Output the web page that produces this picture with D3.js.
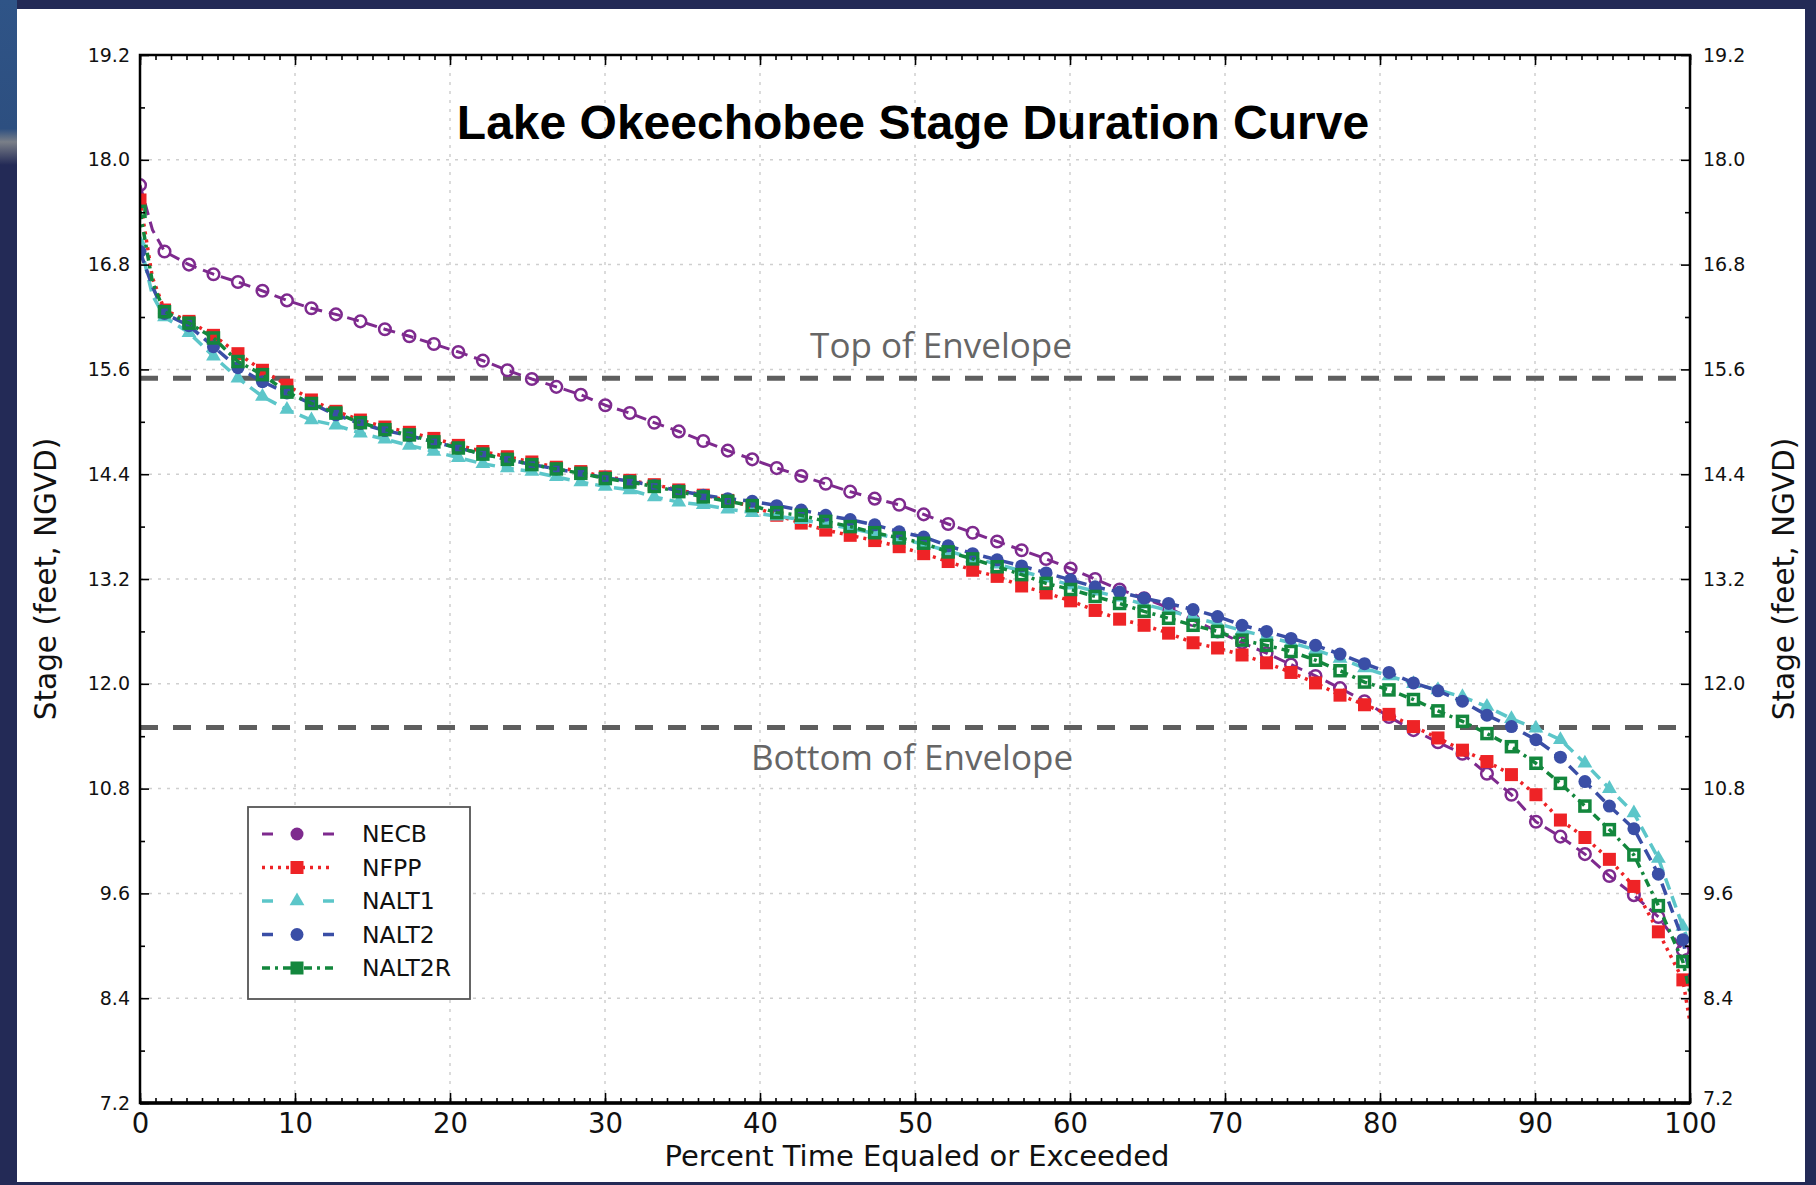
<!DOCTYPE html>
<html><head><meta charset="utf-8">
<script src="https://cdn.jsdelivr.net/npm/d3@7/dist/d3.min.js"></script>
<style>body{margin:0;background:#fff;overflow:hidden}</style>
</head><body>
<svg id="chart" width="1816" height="1185"></svg>
<script>
// ---------------- DATA ----------------
const percent = [0, 0.8, 1.58, 3.16, 4.74, 6.32, 7.90, 9.48, 11.06, 12.64, 14.22, 15.80, 17.38, 18.96, 20.54, 22.12, 23.70, 25.28, 26.86, 28.44, 30.02, 31.60, 33.18, 34.76, 36.34, 37.92, 39.50, 41.08, 42.66, 44.24, 45.82, 47.40, 48.98, 50.56, 52.14, 53.72, 55.30, 56.88, 58.46, 60.04, 61.62, 63.20, 64.78, 66.36, 67.94, 69.52, 71.10, 72.68, 74.26, 75.84, 77.42, 79.00, 80.58, 82.16, 83.74, 85.32, 86.90, 88.48, 90.06, 91.64, 93.22, 94.80, 96.38, 97.96, 99.54, 100];
// points of the line that carry no marker
const lineOnlyPercent = [0.8, 100];

const necb = [17.71, 17.2, 16.95, 16.80, 16.69, 16.60, 16.50, 16.39, 16.30, 16.23, 16.15, 16.06, 15.98, 15.89, 15.80, 15.70, 15.59, 15.49, 15.40, 15.31, 15.19, 15.10, 14.99, 14.89, 14.78, 14.67, 14.57, 14.47, 14.38, 14.29, 14.20, 14.12, 14.05, 13.94, 13.83, 13.73, 13.63, 13.53, 13.43, 13.32, 13.20, 13.08, 12.98, 12.87, 12.73, 12.60, 12.47, 12.35, 12.22, 12.09, 11.95, 11.80, 11.62, 11.47, 11.33, 11.20, 10.97, 10.73, 10.42, 10.25, 10.05, 9.80, 9.58, 9.33, 8.95, 8.75];
const nfpp = [17.54, 16.65, 16.28, 16.15, 15.99, 15.78, 15.59, 15.42, 15.25, 15.12, 15.02, 14.94, 14.88, 14.81, 14.73, 14.66, 14.60, 14.54, 14.48, 14.43, 14.37, 14.33, 14.28, 14.22, 14.16, 14.10, 14.03, 13.93, 13.84, 13.76, 13.70, 13.64, 13.57, 13.49, 13.40, 13.30, 13.23, 13.12, 13.04, 12.95, 12.84, 12.74, 12.67, 12.58, 12.47, 12.41, 12.33, 12.24, 12.13, 12.01, 11.87, 11.76, 11.65, 11.51, 11.38, 11.24, 11.11, 10.96, 10.73, 10.44, 10.24, 9.99, 9.68, 9.16, 8.61, 8.12];
const nalt1 = [17.05, 16.45, 16.20, 16.02, 15.75, 15.50, 15.29, 15.14, 15.02, 14.96, 14.87, 14.80, 14.73, 14.66, 14.59, 14.52, 14.47, 14.43, 14.37, 14.31, 14.26, 14.22, 14.14, 14.08, 14.05, 14.00, 13.96, 13.92, 13.88, 13.83, 13.78, 13.72, 13.66, 13.60, 13.52, 13.44, 13.37, 13.29, 13.21, 13.13, 13.06, 12.99, 12.91, 12.84, 12.76, 12.69, 12.61, 12.54, 12.47, 12.39, 12.29, 12.18, 12.09, 12.00, 11.93, 11.85, 11.74, 11.60, 11.49, 11.36, 11.09, 10.80, 10.52, 10.00, 9.22, 9.00];
const nalt2 = [16.95, 16.55, 16.24, 16.10, 15.86, 15.62, 15.46, 15.33, 15.21, 15.08, 14.98, 14.90, 14.84, 14.77, 14.70, 14.63, 14.57, 14.51, 14.46, 14.41, 14.36, 14.32, 14.27, 14.21, 14.16, 14.12, 14.09, 14.04, 13.99, 13.93, 13.88, 13.82, 13.74, 13.68, 13.58, 13.49, 13.42, 13.35, 13.27, 13.19, 13.11, 13.05, 12.98, 12.92, 12.85, 12.77, 12.67, 12.60, 12.52, 12.44, 12.34, 12.23, 12.13, 12.01, 11.92, 11.80, 11.64, 11.51, 11.36, 11.16, 10.88, 10.60, 10.34, 9.82, 9.07, 8.65];
const nalt2r = [17.41, 16.6, 16.26, 16.13, 15.96, 15.69, 15.54, 15.34, 15.21, 15.10, 14.99, 14.91, 14.85, 14.77, 14.70, 14.63, 14.57, 14.51, 14.46, 14.41, 14.35, 14.31, 14.26, 14.20, 14.14, 14.09, 14.04, 13.96, 13.93, 13.86, 13.80, 13.73, 13.67, 13.61, 13.51, 13.43, 13.34, 13.25, 13.15, 13.08, 13.00, 12.92, 12.83, 12.75, 12.67, 12.60, 12.50, 12.44, 12.37, 12.27, 12.15, 12.02, 11.93, 11.82, 11.69, 11.57, 11.43, 11.28, 11.09, 10.86, 10.60, 10.33, 10.04, 9.46, 8.82, 8.46];

const seriesNames = ["NECB", "NFPP", "NALT1", "NALT2", "NALT2R"];
const seriesValues = [necb, nfpp, nalt1, nalt2, nalt2r];

const envelopeLabels = ["Top of Envelope", "Bottom of Envelope"];
const envelopeValues = [15.5, 11.5];

const xTickValues = [0, 10, 20, 30, 40, 50, 60, 70, 80, 90, 100];
const xTickLabels = ["0", "10", "20", "30", "40", "50", "60", "70", "80", "90", "100"];
const yTickValues = [7.2, 8.4, 9.6, 10.8, 12.0, 13.2, 14.4, 15.6, 16.8, 18.0, 19.2];
const yTickLabels = ["7.2", "8.4", "9.6", "10.8", "12.0", "13.2", "14.4", "15.6", "16.8", "18.0", "19.2"];

const titleText = "Lake Okeechobee Stage Duration Curve";
const xLabelText = "Percent Time Equaled or Exceeded";
const yLabelText = "Stage (feet, NGVD)";

// ---------------- STYLES ----------------
const styles = {
  NECB:   {color: "#7e2a8e", dash: "12,7",    legDash: "11,50",   width: 3,   marker: "circleOpen"},
  NFPP:   {color: "#ee2326", dash: "3,5",     legDash: "3,5",     width: 3.5, marker: "square"},
  NALT1:  {color: "#5cc6c9", dash: "12,7",    legDash: "11,50",   width: 3.5, marker: "triangle"},
  NALT2:  {color: "#3a4ea6", dash: "12,7",    legDash: "11,50",   width: 3.5, marker: "circle"},
  NALT2R: {color: "#13873d", dash: "8,5,3,5", legDash: "8,5,3,5", width: 3.5, marker: "squareOpen"}
};

const W = 1816, H = 1185;
const P = {left: 140, right: 1690, top: 55, bottom: 1103};
const AXFONT = "'DejaVu Sans', sans-serif";

const svg = d3.select("#chart");

// ---------------- BACKGROUND FRAME ----------------
svg.append("rect").attr("width", W).attr("height", H).attr("fill", "#232a56");
const defs = svg.append("defs");
const lg = defs.append("linearGradient").attr("id", "lstrip").attr("x1", 0).attr("y1", 0).attr("x2", 0).attr("y2", 1);
lg.append("stop").attr("offset", "0%").attr("stop-color", "#2f5487");
lg.append("stop").attr("offset", "78%").attr("stop-color", "#2d4f80");
lg.append("stop").attr("offset", "86%").attr("stop-color", "#7a7f88");
lg.append("stop").attr("offset", "100%").attr("stop-color", "#232a56");
svg.append("rect").attr("x", 0).attr("y", 0).attr("width", 17).attr("height", 165).attr("fill", "url(#lstrip)");
svg.append("rect").attr("x", 17).attr("y", 9).attr("width", 1788).attr("height", 1173).attr("fill", "#ffffff");

// ---------------- SCALES ----------------
const x = d3.scaleLinear().domain([0, 100]).range([P.left, P.right]);
const y = d3.scaleLinear().domain([7.2, 19.2]).range([P.bottom, P.top]);

// ---------------- GRID ----------------
const grid = svg.append("g");
grid.selectAll("line.vg").data(xTickValues.slice(1, -1)).join("line")
  .attr("x1", d => x(d)).attr("x2", d => x(d)).attr("y1", P.top).attr("y2", P.bottom)
  .attr("stroke", "#cfcfcf").attr("stroke-width", 1.5).attr("stroke-dasharray", "3,6");
grid.selectAll("line.hg").data(yTickValues.slice(1, -1)).join("line")
  .attr("x1", P.left).attr("x2", P.right).attr("y1", d => y(d)).attr("y2", d => y(d))
  .attr("stroke", "#cfcfcf").attr("stroke-width", 1.5).attr("stroke-dasharray", "3,6");

// ---------------- ENVELOPE ----------------
svg.selectAll("line.env").data(envelopeValues).join("line")
  .attr("x1", P.left).attr("x2", P.right).attr("y1", d => y(d)).attr("y2", d => y(d))
  .attr("stroke", "#5e5e5e").attr("stroke-width", 5).attr("stroke-dasharray", "18,15");
svg.append("text").attr("x", 941).attr("y", y(envelopeValues[0]) - 20).attr("text-anchor", "middle")
  .attr("font-family", "'Open Sans', sans-serif").attr("font-size", 35).attr("fill", "#666")
  .text(envelopeLabels[0]);
svg.append("text").attr("x", 912).attr("y", y(envelopeValues[1]) + 43).attr("text-anchor", "middle")
  .attr("font-family", "'Open Sans', sans-serif").attr("font-size", 35).attr("fill", "#666")
  .text(envelopeLabels[1]);

// ---------------- TITLE ----------------
svg.append("text").attr("x", 913).attr("y", 139).attr("text-anchor", "middle")
  .attr("font-family", "'Liberation Sans', Arial, sans-serif").attr("font-weight", "bold")
  .attr("font-size", 48).attr("fill", "#000").text(titleText);

// ---------------- SERIES ----------------
defs.append("clipPath").attr("id", "plotclip").append("rect")
  .attr("x", P.left).attr("y", P.top).attr("width", P.right - P.left).attr("height", P.bottom - P.top);
const plot = svg.append("g").attr("clip-path", "url(#plotclip)");
const line = d3.line().x(d => x(d[0])).y(d => y(d[1]));

function drawMarker(sel, type, color) {
  if (type === "circleOpen") {
    sel.append("circle").attr("r", 5.8).attr("fill", "none").attr("stroke", color).attr("stroke-width", 2.5);
  } else if (type === "circle") {
    sel.append("circle").attr("r", 6.5).attr("fill", color);
  } else if (type === "square") {
    sel.append("rect").attr("x", -6.5).attr("y", -6.5).attr("width", 13).attr("height", 13).attr("fill", color);
  } else if (type === "squareOpen") {
    sel.append("rect").attr("x", -5).attr("y", -5).attr("width", 10).attr("height", 10)
      .attr("fill", "none").attr("stroke", color).attr("stroke-width", 3.5);
  } else if (type === "triangle") {
    sel.append("path").attr("d", d3.symbol().type(d3.symbolTriangle).size(95)()).attr("fill", color);
  }
}

seriesNames.forEach((name, i) => {
  const st = styles[name];
  const pts = percent.map((p, j) => [p, seriesValues[i][j]]);
  plot.append("path").attr("d", line(pts)).attr("fill", "none")
    .attr("stroke", st.color).attr("stroke-width", st.width).attr("stroke-dasharray", st.dash)
    .attr("stroke-linejoin", "round");
  const mpts = pts.filter(d => !lineOnlyPercent.includes(d[0]));
  plot.selectAll(null).data(mpts).join("g")
    .attr("transform", d => `translate(${x(d[0])},${y(d[1])})`)
    .each(function () { drawMarker(d3.select(this), st.marker, st.color); });
});

// ---------------- AXES ----------------
function styleAxis(g, size) {
  g.select(".domain").remove();
  g.selectAll(".tick line").attr("stroke", "#000").attr("stroke-width", 1.6);
  g.selectAll(".tick text").attr("font-family", AXFONT).attr("font-size", size).attr("fill", "#111");
}
const fmtX = d => xTickLabels[xTickValues.indexOf(d)];
const fmtY = d => { const k = yTickValues.findIndex(v => Math.abs(v - d) < 1e-6); return yTickLabels[k]; };

// bottom
svg.append("g").attr("transform", `translate(0,${P.bottom})`)
  .call(d3.axisBottom(x).tickValues(d3.range(0, 101, 1)).tickSize(-5).tickFormat(""))
  .call(g => styleAxis(g, 0));
svg.append("g").attr("transform", `translate(0,${P.bottom})`)
  .call(d3.axisBottom(x).tickValues(xTickValues).tickSize(-10).tickPadding(10).tickFormat(fmtX))
  .call(g => styleAxis(g, 27.5));
// top
svg.append("g").attr("transform", `translate(0,${P.top})`)
  .call(d3.axisTop(x).tickValues(d3.range(0, 101, 1)).tickSize(-5).tickFormat(""))
  .call(g => styleAxis(g, 0));
svg.append("g").attr("transform", `translate(0,${P.top})`)
  .call(d3.axisTop(x).tickValues(xTickValues).tickSize(-10).tickFormat(""))
  .call(g => styleAxis(g, 0));
// left
svg.append("g").attr("transform", `translate(${P.left},0)`)
  .call(d3.axisLeft(y).tickValues(d3.range(7.8, 19.2, 1.2)).tickSize(-5).tickFormat(""))
  .call(g => styleAxis(g, 0));
svg.append("g").attr("transform", `translate(${P.left},0)`)
  .call(d3.axisLeft(y).tickValues(yTickValues).tickSize(-9).tickPadding(10).tickFormat(fmtY))
  .call(g => styleAxis(g, 19));
// right
svg.append("g").attr("transform", `translate(${P.right},0)`)
  .call(d3.axisRight(y).tickValues(d3.range(7.8, 19.2, 1.2)).tickSize(-5).tickFormat(""))
  .call(g => styleAxis(g, 0));
svg.append("g").attr("transform", `translate(${P.right},0)`)
  .call(d3.axisRight(y).tickValues(yTickValues).tickSize(-9).tickPadding(13).tickFormat(fmtY))
  .call(g => styleAxis(g, 19))
  .call(g => g.selectAll(".tick").filter(d => d === yTickValues[0]).select("text").attr("y", -5));

// frame
svg.append("rect").attr("x", P.left).attr("y", P.top).attr("width", P.right - P.left).attr("height", P.bottom - P.top)
  .attr("fill", "none").attr("stroke", "#000").attr("stroke-width", 2.5);
svg.append("line").attr("x1", P.left).attr("x2", P.right).attr("y1", P.bottom).attr("y2", P.bottom)
  .attr("stroke", "#000").attr("stroke-width", 3.5);

// axis labels
svg.append("text").attr("x", 917).attr("y", 1166).attr("text-anchor", "middle")
  .attr("font-family", AXFONT).attr("font-size", 29).attr("fill", "#111").text(xLabelText);
svg.append("text").attr("transform", "translate(46,579) rotate(-90)").attr("text-anchor", "middle")
  .attr("dominant-baseline", "central")
  .attr("font-family", AXFONT).attr("font-size", 29.5).attr("fill", "#111").text(yLabelText);
svg.append("text").attr("transform", "translate(1784,579) rotate(-90)").attr("text-anchor", "middle")
  .attr("dominant-baseline", "central")
  .attr("font-family", AXFONT).attr("font-size", 29.5).attr("fill", "#111").text(yLabelText);

// ---------------- LEGEND ----------------
const leg = svg.append("g");
leg.append("rect").attr("x", 248).attr("y", 807).attr("width", 222).attr("height", 192)
  .attr("fill", "#fff").attr("stroke", "#555").attr("stroke-width", 1.8);
seriesNames.forEach((name, i) => {
  const st = styles[name];
  const cy = 834 + i * 33.5;
  const row = leg.append("g");
  row.append("line").attr("x1", 262).attr("x2", 334).attr("y1", cy).attr("y2", cy)
    .attr("stroke", st.color).attr("stroke-width", st.width).attr("stroke-dasharray", st.legDash);
  const m = row.append("g").attr("transform", `translate(297,${cy})`);
  const legMarker = st.marker === "squareOpen" ? "square" : (st.marker === "circleOpen" ? "circle" : st.marker);
  drawMarker(m, legMarker, st.color);
  row.append("text").attr("x", 362).attr("y", cy).attr("dy", "0.36em")
    .attr("font-family", AXFONT).attr("font-size", 23.5).attr("fill", "#111").text(name);
});
</script>
</body></html>
